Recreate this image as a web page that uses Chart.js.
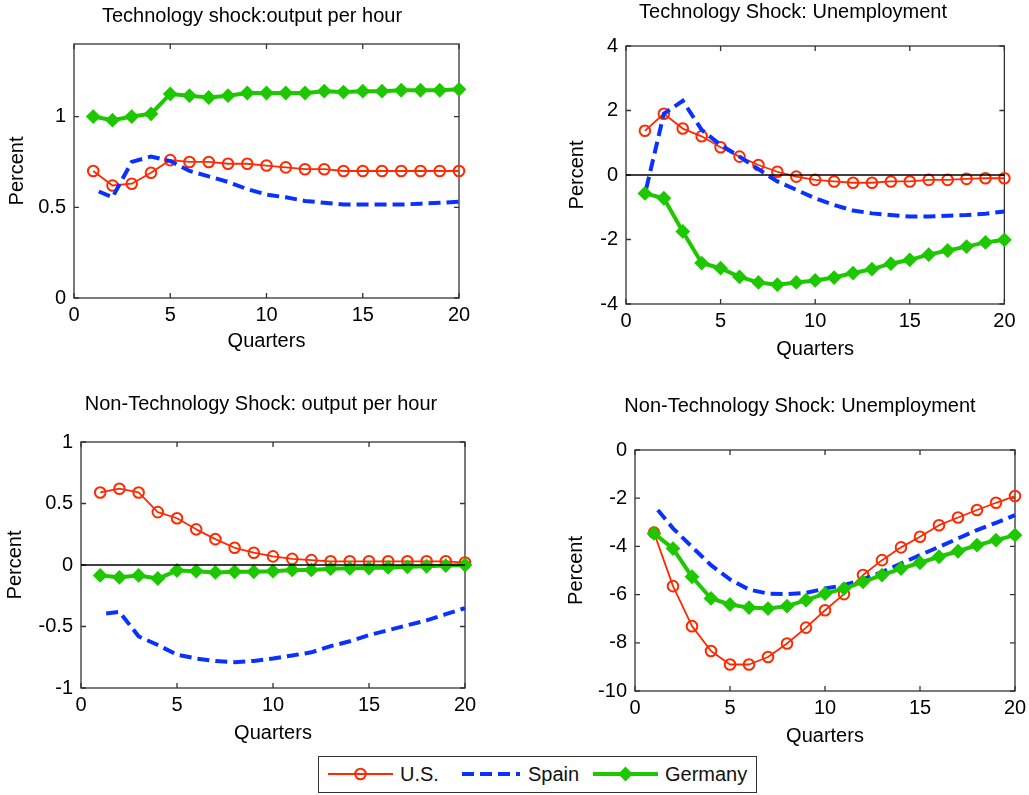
<!DOCTYPE html>
<html>
<head>
<meta charset="utf-8">
<script src="https://cdn.jsdelivr.net/npm/chart.js@4"></script>
<style>
  html, body { margin: 0; padding: 0; background: #fff; }
  body { position: relative; width: 1029px; height: 795px; overflow: hidden;
         font-family: 'Liberation Sans', Arial, sans-serif; }
  canvas.panel { position: absolute; }
  #legend { position: absolute; left: 318px; top: 756px; width: 439px; height: 37px;
            border: 1px solid #333; background: #fff; box-sizing: border-box; }
  #legend svg { position: absolute; left: 0; top: 0; }
  #legend span { position: absolute; font-size: 20px; line-height: 24px; top: 5px; color: #111; white-space: nowrap; }
</style>
</head>
<body>
<canvas class="panel" id="p1"></canvas>
<canvas class="panel" id="p2"></canvas>
<canvas class="panel" id="p3"></canvas>
<canvas class="panel" id="p4"></canvas>
<div id="legend"></div>

<script>
// Impulse responses, quarters 1..20 after the shock (percent)
const quarters = [1, 2, 3, 4, 5, 6, 7, 8, 9, 10, 11, 12, 13, 14, 15, 16, 17, 18, 19, 20];
const quarterTicks = [0, 5, 10, 15, 20];
const seriesNames = ['U.S.', 'Spain', 'Germany'];

// Technology shock: output per hour
const techOutputUS      = [0.70, 0.62, 0.63, 0.69, 0.76, 0.75, 0.75, 0.74, 0.74, 0.73, 0.72, 0.71, 0.71, 0.70, 0.70, 0.70, 0.70, 0.70, 0.70, 0.70];
const techOutputSpain   = [0.60, 0.555, 0.75, 0.78, 0.755, 0.70, 0.67, 0.64, 0.60, 0.57, 0.555, 0.535, 0.525, 0.515, 0.515, 0.515, 0.515, 0.52, 0.525, 0.53];
const techOutputGermany = [1.00, 0.98, 1.00, 1.015, 1.125, 1.115, 1.105, 1.115, 1.13, 1.13, 1.13, 1.13, 1.14, 1.135, 1.14, 1.14, 1.145, 1.145, 1.145, 1.15];
const techOutputTicks   = [0, 0.5, 1];

// Technology shock: unemployment
const techUnempUS      = [1.37, 1.90, 1.44, 1.20, 0.86, 0.57, 0.31, 0.10, -0.05, -0.15, -0.20, -0.24, -0.24, -0.20, -0.20, -0.15, -0.15, -0.12, -0.10, -0.10];
const techUnempSpain   = [-0.60, 1.90, 2.30, 1.40, 0.93, 0.57, 0.18, -0.20, -0.46, -0.72, -0.93, -1.10, -1.19, -1.24, -1.29, -1.29, -1.26, -1.24, -1.20, -1.13];
const techUnempGermany = [-0.57, -0.72, -1.75, -2.73, -2.89, -3.16, -3.33, -3.40, -3.33, -3.27, -3.18, -3.04, -2.92, -2.75, -2.63, -2.47, -2.34, -2.22, -2.09, -2.01];
const techUnempTicks   = [-4, -2, 0, 2, 4];

// Non-technology shock: output per hour
const nonTechOutputUS      = [0.59, 0.62, 0.59, 0.43, 0.38, 0.29, 0.21, 0.14, 0.10, 0.07, 0.05, 0.04, 0.03, 0.03, 0.03, 0.03, 0.03, 0.03, 0.03, 0.02];
const nonTechOutputSpain   = [-0.40, -0.38, -0.58, -0.65, -0.73, -0.76, -0.78, -0.79, -0.78, -0.76, -0.735, -0.71, -0.66, -0.62, -0.57, -0.53, -0.49, -0.45, -0.40, -0.35];
const nonTechOutputGermany = [-0.085, -0.10, -0.085, -0.11, -0.045, -0.05, -0.06, -0.055, -0.055, -0.05, -0.04, -0.04, -0.03, -0.027, -0.025, -0.02, -0.015, -0.01, -0.005, 0.0];
const nonTechOutputTicks   = [-1, -0.5, 0, 0.5, 1];

// Non-technology shock: unemployment
const nonTechUnempUS      = [-3.43, -5.65, -7.31, -8.34, -8.90, -8.90, -8.59, -8.03, -7.37, -6.65, -5.98, -5.19, -4.57, -4.04, -3.60, -3.12, -2.80, -2.49, -2.19, -1.91];
const nonTechUnempSpain   = [-2.30, -3.25, -4.02, -4.78, -5.37, -5.79, -5.96, -5.98, -5.93, -5.75, -5.61, -5.37, -5.06, -4.71, -4.36, -4.02, -3.67, -3.32, -3.02, -2.70];
const nonTechUnempGermany = [-3.46, -4.09, -5.26, -6.16, -6.41, -6.54, -6.58, -6.48, -6.23, -5.96, -5.75, -5.47, -5.19, -4.92, -4.68, -4.43, -4.20, -3.95, -3.74, -3.53];
const nonTechUnempTicks   = [-10, -8, -6, -4, -2, 0];

const FONT = "'Liberation Sans', Arial, sans-serif";
const RED = '#ff2a00', BLUE = '#0a32ff', GREEN = '#1ec800';
const AXIS = '#333333';

Chart.defaults.color = '#000';
Chart.defaults.font.family = FONT;

const seriesStyles = [
  { borderColor: RED, borderWidth: 1.8, borderJoinStyle: 'round',
    pointStyle: 'circle', pointRadius: 5.3, pointBorderWidth: 2,
    pointBorderColor: RED, pointBackgroundColor: 'rgba(255,255,255,0)', order: 4 },
  { borderColor: BLUE, borderWidth: 4, borderDash: [12, 6], borderDashOffset: 12,
    pointRadius: 0, order: 3 },
  { borderColor: GREEN, borderWidth: 4, borderJoinStyle: 'round',
    pointStyle: 'rectRot', pointRadius: 6, pointBorderWidth: 2,
    pointBorderColor: GREEN, pointBackgroundColor: GREEN, order: 2 }
];

// Frame with inward tick marks on all four sides, MATLAB style
const framePlugin = {
  id: 'frame',
  beforeDatasetsDraw(chart) {
    const { ctx, chartArea: a, scales: { x, y } } = chart;
    const len = 5;
    ctx.save();
    ctx.strokeStyle = AXIS;
    ctx.lineWidth = 1.3;
    ctx.strokeRect(a.left, a.top, a.right - a.left, a.bottom - a.top);
    ctx.beginPath();
    x.ticks.forEach(t => {
      const px = x.getPixelForValue(t.value);
      ctx.moveTo(px, a.bottom); ctx.lineTo(px, a.bottom - len);
      ctx.moveTo(px, a.top);    ctx.lineTo(px, a.top + len);
    });
    y.ticks.forEach(t => {
      const py = y.getPixelForValue(t.value);
      ctx.moveTo(a.left, py);  ctx.lineTo(a.left + len, py);
      ctx.moveTo(a.right, py); ctx.lineTo(a.right - len, py);
    });
    ctx.stroke();
    ctx.restore();
  }
};

const panels = [
  { id: 'p1', title: 'Technology shock:output per hour',
    series: [techOutputUS, techOutputSpain, techOutputGermany],
    yMin: 0, yMax: 1.4, yTicks: techOutputTicks, zeroLine: false,
    box: { left: 5, top: 4, width: 494, height: 349 },
    yWidth: 69, xHeight: 55, rightWidth: 40, titleGap: 16 },
  { id: 'p2', title: 'Technology Shock: Unemployment',
    series: [techUnempUS, techUnempSpain, techUnempGermany],
    yMin: -4, yMax: 4, yTicks: techUnempTicks, zeroLine: true,
    box: { left: 565, top: 0, width: 456, height: 361 },
    yWidth: 61, xHeight: 57, rightWidth: 11, titleGap: 22 },
  { id: 'p3', title: 'Non-Technology Shock: output per hour',
    series: [nonTechOutputUS, nonTechOutputSpain, nonTechOutputGermany],
    yMin: -1, yMax: 1, yTicks: nonTechOutputTicks, zeroLine: true,
    box: { left: 3, top: 392, width: 516, height: 353 },
    yWidth: 78, xHeight: 57, rightWidth: 54, titleGap: 26 },
  { id: 'p4', title: 'Non-Technology Shock: Unemployment',
    series: [nonTechUnempUS, nonTechUnempSpain, nonTechUnempGermany],
    yMin: -10, yMax: 0, yTicks: nonTechUnempTicks, zeroLine: false,
    box: { left: 564, top: 394, width: 472, height: 354 },
    yWidth: 71, xHeight: 57, rightWidth: 21, titleGap: 32 }
];

const textFont = { size: 20, family: FONT, weight: 'normal', lineHeight: 1.2 };

panels.forEach(p => {
  const canvas = document.getElementById(p.id);
  canvas.width = p.box.width;
  canvas.height = p.box.height;
  canvas.style.left = p.box.left + 'px';
  canvas.style.top = p.box.top + 'px';
  canvas.style.width = p.box.width + 'px';
  canvas.style.height = p.box.height + 'px';

  const datasets = p.series.map((values, i) => Object.assign({
    label: seriesNames[i],
    data: quarters.map((q, k) => ({ x: q, y: values[k] })),
    xAxisID: 'x', yAxisID: 'y',
    tension: 0, clip: false, fill: false
  }, seriesStyles[i]));

  if (p.zeroLine) {
    datasets.push({
      label: 'zero',
      data: [quarterTicks[0], quarterTicks[quarterTicks.length - 1]].map(q => ({ x: q, y: 0 })),
      xAxisID: 'x', yAxisID: 'y',
      borderColor: '#000', borderWidth: 1.3, pointRadius: 0, tension: 0, clip: false, order: 1
    });
  }

  new Chart(canvas, {
    type: 'line',
    data: { datasets },
    options: {
      responsive: false,
      animation: false,
      devicePixelRatio: 1,
      events: [],
      layout: { padding: 0, autoPadding: false },
      plugins: {
        legend: { display: false },
        tooltip: { enabled: false },
        title: {
          display: true, text: p.title, color: '#000',
          font: textFont, padding: { top: 0, bottom: p.titleGap }
        }
      },
      scales: {
        x: {
          type: 'linear', position: 'bottom', min: 0, max: 20,
          afterBuildTicks: s => { s.ticks = quarterTicks.map(v => ({ value: v })); },
          afterFit: s => { s.height = p.xHeight; },
          grid: { display: false, drawTicks: false },
          border: { display: false },
          ticks: { font: textFont, padding: 5.5, color: '#000', maxRotation: 0,
                   callback: v => String(v) },
          title: { display: true, text: 'Quarters', font: textFont, color: '#000',
                   padding: { top: 0, bottom: 0 } }
        },
        y: {
          type: 'linear', position: 'left', min: p.yMin, max: p.yMax,
          afterBuildTicks: s => { s.ticks = p.yTicks.map(v => ({ value: v })); },
          afterFit: s => { s.width = p.yWidth; },
          grid: { display: false, drawTicks: false },
          border: { display: false },
          ticks: { font: textFont, padding: 8, color: '#000',
                   callback: v => String(v) },
          title: { display: true, text: 'Percent', font: textFont, color: '#000',
                   padding: { top: 0, bottom: 0 } }
        },
        // empty right-hand strip so the panel title sits where the figure puts it
        pad: {
          type: 'linear', axis: 'y', position: 'right', display: true,
          afterFit: s => { s.width = p.rightWidth; },
          grid: { display: false, drawTicks: false },
          border: { display: false },
          ticks: { display: false },
          title: { display: false }
        }
      }
    },
    plugins: [framePlugin]
  });
});

// Shared legend
(function buildLegend() {
  const legend = document.getElementById('legend');
  const ns = 'http://www.w3.org/2000/svg';
  const svg = document.createElementNS(ns, 'svg');
  svg.setAttribute('width', '437');
  svg.setAttribute('height', '35');
  const cy = 17;
  const samples = [
    { x1: 9, x2: 74, text: 81 },
    { x1: 143, x2: 201, text: 209 },
    { x1: 274, x2: 339, text: 346 }
  ];
  samples.forEach((s, i) => {
    const st = seriesStyles[i];
    const line = document.createElementNS(ns, 'line');
    line.setAttribute('x1', s.x1); line.setAttribute('x2', s.x2);
    line.setAttribute('y1', cy); line.setAttribute('y2', cy);
    line.setAttribute('stroke', st.borderColor);
    line.setAttribute('stroke-width', st.borderWidth);
    if (st.borderDash) line.setAttribute('stroke-dasharray', st.borderDash.join(' '));
    svg.appendChild(line);
    const mx = (s.x1 + s.x2) / 2;
    if (st.pointStyle === 'circle') {
      const c = document.createElementNS(ns, 'circle');
      c.setAttribute('cx', mx); c.setAttribute('cy', cy); c.setAttribute('r', st.pointRadius);
      c.setAttribute('fill', 'none'); c.setAttribute('stroke', st.pointBorderColor);
      c.setAttribute('stroke-width', st.pointBorderWidth);
      svg.appendChild(c);
    } else if (st.pointStyle === 'rectRot') {
      const r = st.pointRadius;
      const d = document.createElementNS(ns, 'polygon');
      d.setAttribute('points', `${mx},${cy - r} ${mx + r},${cy} ${mx},${cy + r} ${mx - r},${cy}`);
      d.setAttribute('fill', st.pointBackgroundColor); d.setAttribute('stroke', st.pointBorderColor);
      d.setAttribute('stroke-width', st.pointBorderWidth);
      svg.appendChild(d);
    }
    const span = document.createElement('span');
    span.textContent = seriesNames[i];
    span.style.left = s.text + 'px';
    legend.appendChild(span);
  });
  legend.insertBefore(svg, legend.firstChild);
})();
</script>
</body>
</html>
